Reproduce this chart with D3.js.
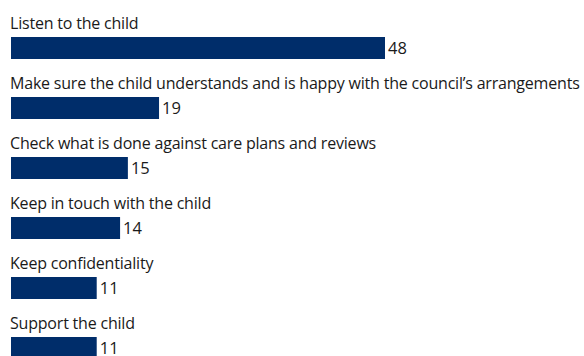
<!DOCTYPE html>
<html>
<head>
<meta charset="utf-8">
<script src="https://cdn.jsdelivr.net/npm/d3@7"></script>
<style>
  html, body { margin: 0; padding: 0; background: #ffffff; }
  svg { display: block; }
  text { font-family: "Open Sans", "Noto Sans", sans-serif; fill: #1a1a1a; }
</style>
</head>
<body>
<div id="chart"></div>
<script>
// Roles, ranked by number of responses
const categories = [
  "Listen to the child",
  "Make sure the child understands and is happy with the council\u2019s arrangements",
  "Check what is done against care plans and reviews",
  "Keep in touch with the child",
  "Keep confidentiality",
  "Support the child"
];
const values = [48, 19, 15, 14, 11, 11];

const width = 584, height = 356;
const margin = { left: 11, top: 37 };
const rowStep = 60, barHeight = 22;

const svg = d3.select("#chart").append("svg")
  .attr("width", width)
  .attr("height", height);

const x = d3.scaleLinear()
  .domain([0, 48])
  .range([0, 374]);

const y = d3.scaleBand()
  .domain(categories)
  .range([margin.top, margin.top + rowStep * categories.length])
  .paddingInner(0)
  .paddingOuter(0);

const rows = svg.selectAll("g.row")
  .data(categories.map((c, i) => ({ label: c, value: values[i] })))
  .join("g")
  .attr("class", "row")
  .attr("transform", d => `translate(0,${y(d.label)})`);

rows.append("rect")
  .attr("x", margin.left)
  .attr("y", 0)
  .attr("width", d => x(d.value))
  .attr("height", barHeight)
  .attr("fill", "#002d6a");

rows.append("text")
  .attr("class", "label")
  .attr("x", margin.left - 1)
  .attr("y", -8)
  .attr("font-size", 16)
  .attr("letter-spacing", -0.2)
  .text(d => d.label);

rows.append("text")
  .attr("class", "value")
  .attr("x", d => margin.left + x(d.value) + 3)
  .attr("y", 17)
  .attr("font-size", 16.5)
  .text(d => d.value);
</script>
</body>
</html>
